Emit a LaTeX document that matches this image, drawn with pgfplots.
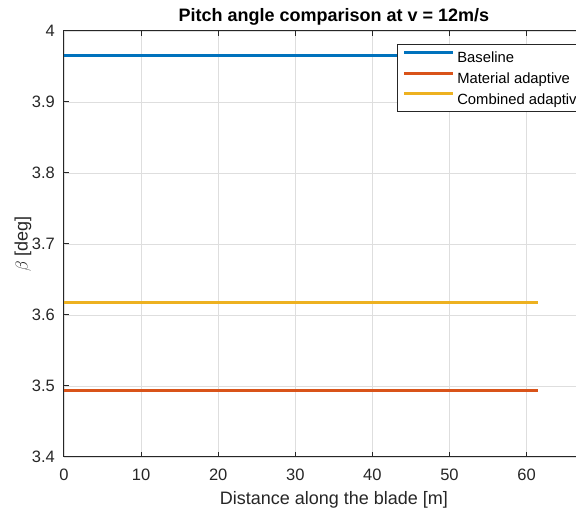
\documentclass[border=0pt]{standalone}
\usepackage{pgfplots}
\pgfplotsset{compat=1.18}
\usepackage{fontspec}
\setmainfont{Liberation Sans}
\definecolor{mblue}{rgb}{0,0.447,0.741}
\definecolor{morange}{rgb}{0.850,0.325,0.098}
\definecolor{myellow}{rgb}{0.929,0.694,0.125}
\definecolor{axgray}{rgb}{0.15,0.15,0.15}
\definecolor{gridgray}{rgb}{0.87,0.87,0.87}
\begin{document}
\begin{tikzpicture}
\path[use as bounding box, clip] (-64pt,-56pt) rectangle (512pt,457pt);
\begin{axis}[
  scale only axis, width=539.7pt, height=426pt,
  xmin=0, xmax=70, ymin=3.4, ymax=4,
  xtick={0,10,20,30,40,50,60},
  ytick={3.4,3.5,3.6,3.7,3.8,3.9,4},
  yticklabels={3.4,3.5,3.6,3.7,3.8,3.9,4},
  tick align=inside, major tick length=5pt,
  xtick pos=both, ytick pos=left,
  axis line style={axgray, line width=1pt},
  every tick/.style={axgray, line width=1pt},
  grid=major, major grid style={gridgray, line width=0.8pt},
  /pgf/number format/assume math mode=true,
  tick label style={font=\fontsize{16.5}{19}\selectfont, text=axgray},
  xticklabel style={inner sep=0pt, yshift=-12pt},
  yticklabel style={inner sep=0pt, xshift=-9pt},
  xlabel={Distance along the blade [m]},
  xlabel style={font=\fontsize{18}{21}\selectfont, text=axgray, at={(axis description cs:0.5,0)}, anchor=north, inner sep=0pt, yshift=-34pt},
  ylabel={$\beta$ [deg]},
  ylabel style={font=\fontsize{18}{21}\selectfont, text=axgray, at={(axis description cs:-0.0602,0.5)}, anchor=south, inner sep=0pt},
  title={Pitch angle comparison at v = 12m/s},
  title style={font=\bfseries\fontsize{18}{21}\selectfont, at={(axis description cs:0.5,1)}, anchor=base, inner sep=0pt, yshift=3pt},
  legend style={at={(axis description cs:0.617,0.9688)}, anchor=north west, draw=axgray, line width=0.8pt,
    font=\fontsize{14.8}{17}\selectfont, inner xsep=5.4pt, inner ysep=6pt, row sep=7.9pt, column sep=2.5pt,
    nodes={inner sep=0pt, text height=11.5pt, text depth=1.1pt}},
  legend cell align=left,
  legend image code/.code={\draw[#1, line width=3pt] (0pt,5.2pt) -- (49pt,5.2pt);},
]
\addplot[mblue, line width=3pt] coordinates {(0,3.9658) (61.5,3.9658)};
\addlegendentry{Baseline}
\addplot[morange, line width=3pt] coordinates {(0,3.4930) (61.5,3.4930)};
\addlegendentry{Material adaptive}
\addplot[myellow, line width=3pt] coordinates {(0,3.6175) (61.5,3.6175)};
\addlegendentry{Combined adaptive}
\end{axis}
\end{tikzpicture}
\end{document}
